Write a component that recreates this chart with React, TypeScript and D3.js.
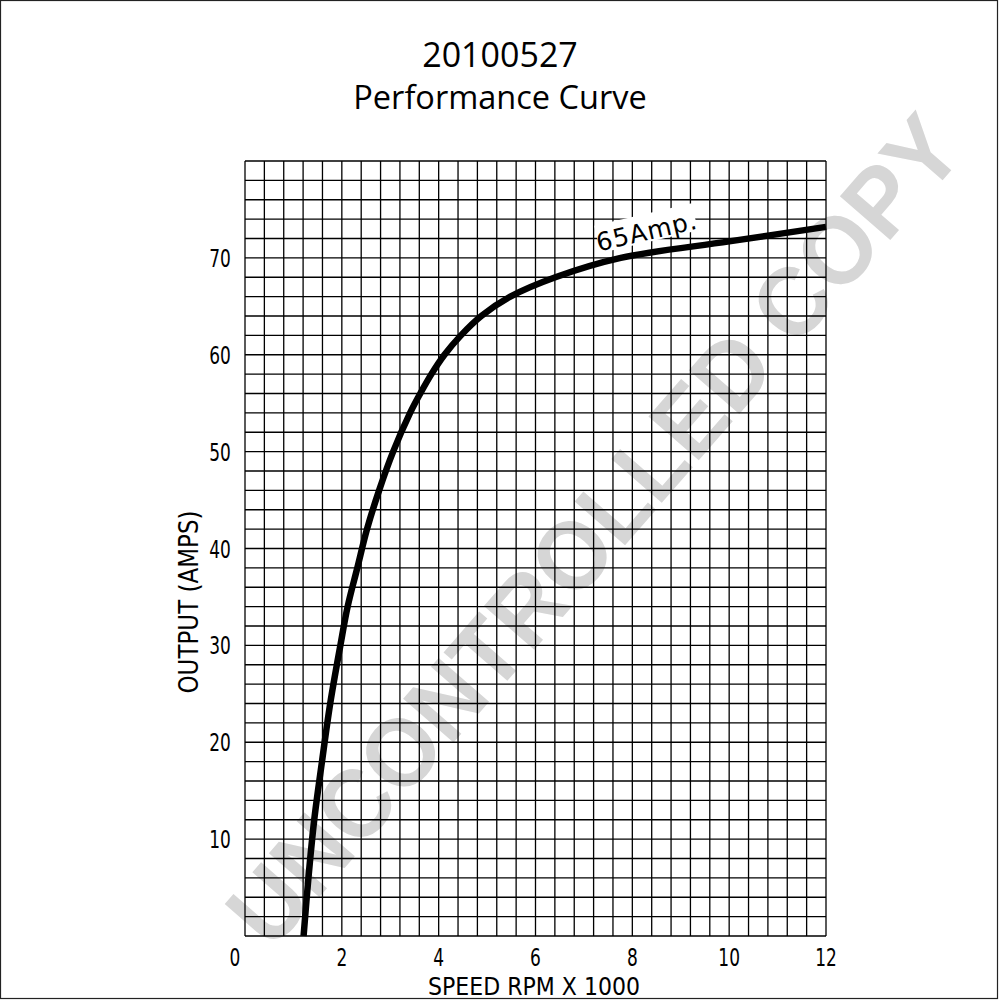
import { useRef, useEffect } from 'react';
import * as d3 from 'd3';

// curve: speed (rpm x 1000) vs output (amps)
const speedRpm = [1.21, 1.31, 1.43, 1.59, 1.76, 1.97, 2.12, 2.32, 2.52, 2.77, 3.06, 3.41, 3.62, 3.85, 4.12, 4.46, 4.88, 5.48, 6.41, 7.76, 10, 12];
const outputAmps = [0, 6, 12, 18, 24, 30, 34, 38, 42, 46, 50, 54, 56, 58, 60, 62, 64, 66, 68, 70, 71.7, 73.2];

const xTicks = [0, 2, 4, 6, 8, 10, 12];
const yTicks = [10, 20, 30, 40, 50, 60, 70];

const W = 1000;
const H = 1000;
const PLOT = { left: 245, right: 826, top: 161, bottom: 936 };
const TICK_FONT = "'DejaVu Sans', sans-serif";
const TITLE_FONT = "'Open Sans', 'Noto Sans', sans-serif";

export default function App() {
  const svgRef = useRef<SVGSVGElement>(null);

  useEffect(() => {
    const svg = svgRef.current;
    if (!svg) return;
    const root = d3.select(svg);
    root.selectAll('*').remove();

    const x = d3.scaleLinear().domain([0, 12]).range([PLOT.left, PLOT.right]);
    const y = d3.scaleLinear().domain([0, 80]).range([PLOT.bottom, PLOT.top]);

    root.append('rect').attr('width', W).attr('height', H).attr('fill', '#fff');
    // frame
    root.append('rect').attr('x', 0.5).attr('y', 0.5).attr('width', 997).attr('height', 998)
      .attr('fill', 'none').attr('stroke', '#222').attr('stroke-width', 1.2);

    // watermark (behind the grid)
    root.append('text')
      .attr('transform', 'translate(594,530) rotate(-49)')
      .attr('text-anchor', 'middle').attr('dominant-baseline', 'central')
      .attr('font-family', "'Liberation Sans', Arial, sans-serif").attr('font-weight', 'bold')
      .attr('font-size', 97).attr('fill', '#d6d6d6')
      .attr('textLength', 1060).attr('lengthAdjust', 'spacingAndGlyphs')
      .text('UNCONTROLLED COPY');

    // grid
    const g = root.append('g');
    d3.range(0, 12.001, 0.4).forEach(v => {
      g.append('line').attr('x1', x(v)).attr('x2', x(v)).attr('y1', PLOT.top).attr('y2', PLOT.bottom)
        .attr('stroke', '#000').attr('stroke-width', 1.3);
    });
    d3.range(0, 80.001, 2).forEach(v => {
      g.append('line').attr('x1', PLOT.left).attr('x2', PLOT.right).attr('y1', y(v)).attr('y2', y(v))
        .attr('stroke', '#000').attr('stroke-width', 1.3);
    });

    // tick labels (narrowed to look like the plotter font)
    yTicks.forEach(t => {
      root.append('text').attr('transform', `translate(220,${y(t) + 9}) scale(0.74,1.05)`)
        .attr('text-anchor', 'middle').attr('font-family', TICK_FONT).attr('font-size', 23)
        .attr('fill', '#000').text(t);
    });
    xTicks.forEach(t => {
      root.append('text').attr('transform', `translate(${t === 0 ? x(t) - 10 : x(t)},966) scale(0.74,1.05)`)
        .attr('text-anchor', 'middle').attr('font-family', TICK_FONT).attr('font-size', 23)
        .attr('fill', '#000').text(t);
    });

    // axis titles
    root.append('text').attr('x', 534).attr('y', 995).attr('text-anchor', 'middle')
      .attr('font-family', TICK_FONT).attr('font-size', 25)
      .attr('textLength', 212).attr('lengthAdjust', 'spacingAndGlyphs')
      .attr('fill', '#000').text('SPEED  RPM  X  1000');
    root.append('text').attr('transform', 'translate(198,602) rotate(-90)').attr('text-anchor', 'middle')
      .attr('font-family', TICK_FONT).attr('font-size', 27)
      .attr('textLength', 183).attr('lengthAdjust', 'spacingAndGlyphs')
      .attr('fill', '#000').text('OUTPUT  (AMPS)');

    // curve
    const pts = speedRpm.map((s, i) => [s, outputAmps[i]] as [number, number]);
    const line = d3.line<[number, number]>().x(d => x(d[0])).y(d => y(d[1])).curve(d3.curveCatmullRom.alpha(0.5));
    root.append('path').datum(pts).attr('d', line).attr('fill', 'none')
      .attr('stroke', '#000').attr('stroke-width', 6.5).attr('stroke-linecap', 'butt');

    // curve label
    const lab = root.append('g').attr('transform', 'translate(647,232) rotate(-13)');
    lab.append('rect').attr('x', -50).attr('y', -18).attr('width', 100).attr('height', 28).attr('fill', '#fff');
    lab.append('text').attr('x', 0).attr('y', 8).attr('text-anchor', 'middle')
      .attr('font-family', TICK_FONT).attr('font-size', 25).attr('letter-spacing', 1).attr('fill', '#000').text('65Amp.');

    // titles
    root.append('text').attr('x', 500).attr('y', 67).attr('text-anchor', 'middle')
      .attr('font-family', TITLE_FONT).attr('font-size', 34).attr('fill', '#000').text('20100527');
    root.append('text').attr('x', 500).attr('y', 109).attr('text-anchor', 'middle')
      .attr('font-family', TITLE_FONT).attr('font-size', 32.5).attr('fill', '#000').text('Performance Curve');
  }, []);

  return (
    <div style={{ position: 'absolute', left: 0, top: 0 }}>
      <svg ref={svgRef} width={W} height={H} style={{ display: 'block' }} />
    </div>
  );
}
